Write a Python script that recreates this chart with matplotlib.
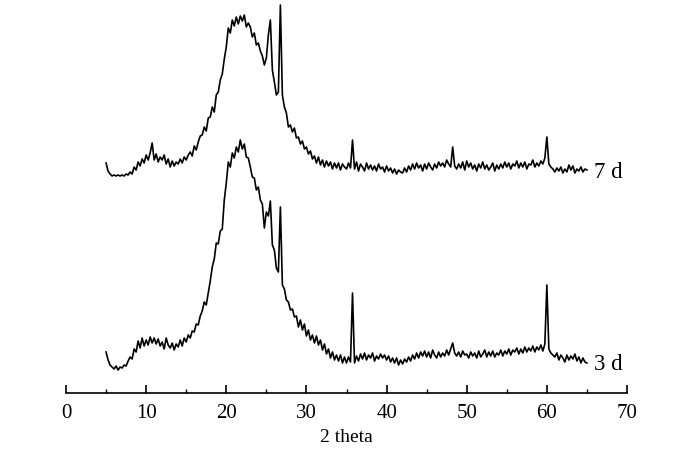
import numpy as np
from matplotlib import pyplot as plt
from matplotlib.ticker import MultipleLocator


# 2 theta grid, 5..65 deg, step 0.25
two_theta = np.arange(0, 241) * 0.25 + 5.0

# intensity (a.u.), 7 d sample (shifted up)
intensity_7d = [
    230, 222, 219, 217,
    218, 217, 218, 217,
    218, 217, 219, 218,
    221, 219, 226, 223,
    231, 227, 234, 230,
    238, 233, 240, 250,
    233, 239, 231, 236,
    233, 238, 229, 234,
    226, 232, 227, 231,
    229, 234, 230, 236,
    233, 238, 241, 237,
    247, 243, 251, 257,
    258, 266, 262, 275,
    276, 286, 281, 298,
    301, 313, 319, 334,
    346, 365, 360, 373,
    367, 376, 369, 377,
    372, 378, 366, 370,
    366, 356, 360, 348,
    350, 342, 337, 328,
    335, 358, 373, 323,
    311, 298, 301, 388,
    298, 286, 280, 266,
    268, 261, 265, 255,
    256, 249, 252, 244,
    246, 239, 242, 234,
    237, 230, 236, 228,
    233, 226, 232, 227,
    231, 224, 230, 225,
    230, 223, 229, 226,
    224, 230, 225, 253,
    224, 231, 222, 229,
    226, 222, 230, 224,
    228, 223, 227, 222,
    229, 224, 226, 221,
    227, 222, 225, 220,
    224, 219, 223, 221,
    220, 225, 221, 227,
    223, 229, 224, 230,
    225, 228, 222, 229,
    224, 230, 226, 223,
    229, 225, 231, 227,
    230, 226, 233, 229,
    226, 246, 227, 224,
    229, 225, 231, 223,
    232, 226, 230, 224,
    228, 222, 229, 225,
    231, 224, 228, 223,
    226, 230, 222, 228,
    224, 229, 225, 231,
    226, 230, 224, 229,
    227, 232, 225, 230,
    226, 231, 224, 229,
    228, 233, 226, 230,
    227, 232, 229, 235,
    256, 229, 226, 224,
    221, 225, 222, 226,
    220, 224, 221, 228,
    223, 227, 220, 224,
    222, 226, 221, 224,
    223,
]

# intensity (a.u.), 3 d sample
intensity_3d = [
    41, 33, 28, 26,
    24, 27, 23, 26,
    25, 28, 27, 32,
    36, 34, 44, 41,
    52, 45, 55, 47,
    53, 48, 56, 50,
    55, 49, 54, 47,
    51, 44, 55, 48,
    45, 50, 43, 49,
    46, 53, 47, 55,
    51, 58, 55, 62,
    61, 69, 68, 77,
    82, 91, 88, 100,
    112, 126, 134, 150,
    149, 162, 164, 193,
    210, 231, 226, 240,
    235, 246, 241, 253,
    244, 249, 236, 235,
    226, 216, 215, 203,
    206, 193, 189, 165,
    181, 177, 192, 148,
    143, 125, 121, 186,
    108, 104, 93, 91,
    83, 84, 76, 77,
    66, 73, 63, 69,
    57, 63, 53, 58,
    50, 57, 48, 53,
    43, 49, 39, 44,
    35, 41, 33, 38,
    32, 38, 30, 36,
    30, 36, 31, 100,
    30, 37, 32, 39,
    34, 40, 33, 38,
    35, 40, 32, 37,
    34, 39, 35, 38,
    33, 37, 31, 35,
    30, 35, 28, 33,
    29, 34, 31, 36,
    32, 38, 34, 40,
    35, 41, 37, 42,
    36, 41, 35, 43,
    38, 35, 41, 36,
    40, 37, 43, 38,
    44, 50, 40, 37,
    41, 36, 42, 38,
    39, 35, 41, 37,
    40, 35, 42, 36,
    39, 43, 36, 41,
    37, 42, 36, 40,
    38, 43, 37, 42,
    39, 44, 38, 43,
    41, 45, 39, 44,
    40, 46, 41, 45,
    42, 47, 41, 46,
    43, 48, 42, 49,
    108, 44, 40, 38,
    36, 40, 33, 38,
    35, 31, 38, 33,
    37, 34, 39, 32,
    36, 30, 35, 31,
    30,
]

series_labels = ['7 d', '3 d']
x_ticks = [0, 10, 20, 30, 40, 50, 60, 70]


def main():
    plt.rcParams['font.family'] = ['Liberation Serif', 'DejaVu Serif']

    fig = plt.figure(figsize=(7.0, 4.62), dpi=100)
    ax = fig.add_axes([66 / 700, 69 / 462, 561 / 700, 393 / 462])

    curves = [intensity_7d, intensity_3d]
    for y, label in zip(curves, series_labels):
        ax.plot(two_theta, y, color='black', lw=1.2)
        ax.text(65.9, y[-1] - 2, label, fontsize=16.5, va='center', ha='left')

    ax.set_xlim(0, 70)
    ax.set_ylim(0, 393)
    ax.set_xticks(x_ticks)
    ax.xaxis.set_minor_locator(MultipleLocator(5))
    ax.tick_params(axis='x', which='major', direction='in', length=6, width=1.2,
                   labelsize=15, pad=8)
    ax.tick_params(axis='x', which='minor', direction='in', length=3, width=1.0)
    ax.set_yticks([])
    for side in ('left', 'right', 'top'):
        ax.spines[side].set_visible(False)
    ax.spines['bottom'].set_linewidth(1.2)
    ax.set_xlabel('2 theta', fontsize=14, labelpad=4)

    fig.savefig('out.png', dpi=100)


if __name__ == '__main__':
    main()
